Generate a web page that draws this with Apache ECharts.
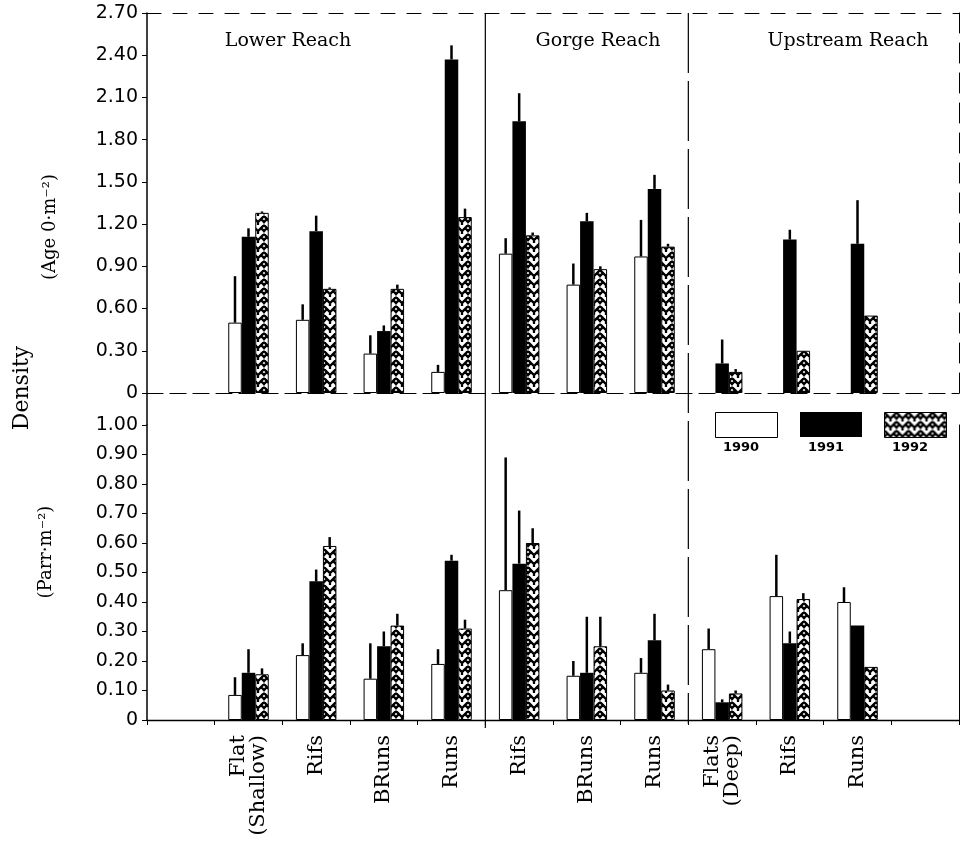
<!DOCTYPE html>
<html><head><meta charset="utf-8">
<script src="https://cdn.jsdelivr.net/npm/echarts/dist/echarts.min.js"></script>
<style>html,body{margin:0;padding:0;background:#fff}#c{width:963px;height:842px}</style>
</head><body><div id="c"></div>
<script>
// ---- data ----
const categories = ['', 'Flat\n(Shallow)', 'Rifs', 'BRuns', 'Runs', 'Rifs', 'BRuns', 'Runs', 'Flats\n(Deep)', 'Rifs', 'Runs', ''];
const years = ['1990', '1991', '1992'];
const reaches = ['Lower Reach', 'Gorge Reach', 'Upstream Reach'];
const ageTickLabels = ['0', '0.30', '0.60', '0.90', '1.20', '1.50', '1.80', '2.10', '2.40', '2.70'];
const parrTickLabels = ['0', '0.10', '0.20', '0.30', '0.40', '0.50', '0.60', '0.70', '0.80', '0.90', '1.00'];

// Age 0 density (fish per m2), means and standard errors
const age1990 = [null, 0.50, 0.52, 0.28, 0.15, 0.99, 0.77, 0.97, null, null, null, null];
const age1990Err = [null, 0.33, 0.11, 0.13, 0.05, 0.11, 0.15, 0.26, null, null, null, null];
const age1991 = [null, 1.11, 1.15, 0.44, 2.37, 1.93, 1.22, 1.45, 0.21, 1.09, 1.06, null];
const age1991Err = [null, 0.06, 0.11, 0.04, 0.10, 0.20, 0.06, 0.10, 0.17, 0.07, 0.31, null];
const age1992 = [null, 1.28, 0.74, 0.74, 1.25, 1.12, 0.88, 1.04, 0.15, 0.30, 0.55, null];
const age1992Err = [null, 0.01, 0.01, 0.03, 0.06, 0.02, 0.02, 0.02, 0.02, 0.0, 0.0, null];

// Parr density (fish per m2)
const parr1990 = [null, 0.085, 0.22, 0.14, 0.19, 0.44, 0.15, 0.16, 0.24, 0.42, 0.40, null];
const parr1990Err = [null, 0.06, 0.04, 0.12, 0.05, 0.45, 0.05, 0.05, 0.07, 0.14, 0.05, null];
const parr1991 = [null, 0.16, 0.47, 0.25, 0.54, 0.53, 0.16, 0.27, 0.06, 0.26, 0.32, null];
const parr1991Err = [null, 0.08, 0.04, 0.05, 0.02, 0.18, 0.19, 0.09, 0.01, 0.04, 0.0, null];
const parr1992 = [null, 0.155, 0.59, 0.32, 0.31, 0.60, 0.25, 0.10, 0.09, 0.41, 0.18, null];
const parr1992Err = [null, 0.02, 0.03, 0.04, 0.03, 0.05, 0.10, 0.02, 0.01, 0.02, 0.0, null];

// ---- styling ----
const sans = 'DejaVu Sans', serif = 'DejaVu Serif';
const BW = 13.5;
function makeHatch() {
  const w = 12, h = 9;
  const c = document.createElement('canvas'); c.width = w; c.height = h;
  const g = c.getContext('2d');
  g.fillStyle = '#fff'; g.fillRect(0, 0, w, h);
  g.strokeStyle = '#000'; g.lineWidth = 2.3; g.lineCap = 'butt';
  g.beginPath();
  // chevron (herringbone spine)
  g.moveTo(-1, -1); g.lineTo(6, 6); g.lineTo(13, -1);
  g.moveTo(-1, h - 1); g.lineTo(0, h);
  g.moveTo(13, h - 1); g.lineTo(12, h);
  // brick ties
  g.moveTo(3, 3); g.lineTo(-1, 7);
  g.moveTo(9, 3); g.lineTo(13, 7);
  g.moveTo(6, 6); g.lineTo(6, h + 1);
  g.stroke();
  return c;
}
const hatch = makeHatch();
const fills = [
  { color: '#fff', borderColor: '#000', borderWidth: 1 },
  { color: '#000', borderColor: '#000', borderWidth: 0 },
  { color: { image: hatch, repeat: 'repeat' }, borderColor: '#000', borderWidth: 1 }
];

const panels = [
  { means: [age1990, age1991, age1992], errs: [age1990Err, age1991Err, age1992Err], ticks: ageTickLabels, step: 0.3 },
  { means: [parr1990, parr1991, parr1992], errs: [parr1990Err, parr1991Err, parr1992Err], ticks: parrTickLabels, step: 0.1 }
];

function errRender(off) {
  return function (params, api) {
    const i = api.value(0), v = api.value(1), e = api.value(2);
    const p0 = api.coord([i, v]), p1 = api.coord([i, v + e]);
    return { type: 'line', shape: { x1: p0[0] + off, y1: p0[1], x2: p1[0] + off, y2: p1[1] },
      style: { stroke: '#000', lineWidth: 2.5 } };
  };
}

const grids = [
  { left: 147, top: 13, width: 812, height: 380, outerBoundsMode: 'none', containLabel: false },
  { left: 147, top: 425, width: 812, height: 295, outerBoundsMode: 'none', containLabel: false }
];

const xAxes = [
  { type: 'category', gridIndex: 0, data: categories, position: 'bottom',
    axisLine: { show: true, onZero: false, lineStyle: { color: '#000', width: 1.2, type: [16, 7] } },
    axisTick: { show: false }, axisLabel: { show: false }, splitLine: { show: false } },
  { type: 'category', gridIndex: 0, data: categories, position: 'top',
    axisLine: { show: true, onZero: false, lineStyle: { color: '#000', width: 1, type: [14, 12] } },
    axisTick: { show: false }, axisLabel: { show: false }, splitLine: { show: false } },
  { type: 'category', gridIndex: 1, data: categories, position: 'bottom',
    axisLine: { show: true, onZero: false, lineStyle: { color: '#000', width: 1.3 } },
    axisTick: { show: true, length: 5, lineStyle: { color: '#000', width: 1 } },
    axisLabel: { interval: 0, rotate: 90, color: '#000', fontFamily: serif, fontSize: 21, lineHeight: 20, margin: 15 },
    splitLine: { show: false } }
];

const yAxes = [];
panels.forEach((p, gi) => {
  const max = p.step * (p.ticks.length - 1);
  yAxes.push({ type: 'value', gridIndex: gi, position: 'left', min: 0, max: max, interval: p.step,
    axisLine: { show: true, onZero: false, lineStyle: { color: '#000', width: 1.5 } },
    axisTick: { show: true, length: 5, lineStyle: { color: '#000' } },
    axisLabel: { color: '#000', fontFamily: sans, fontSize: 19, margin: 9,
      formatter: v => p.ticks[Math.round(v / p.step)] },
    splitLine: { show: false } });
  yAxes.push({ type: 'value', gridIndex: gi, position: 'right', min: 0, max: max, interval: p.step,
    axisLine: { show: true, onZero: false, lineStyle: { color: '#000', width: 1, type: gi === 0 ? [20, 10] : 'solid' } },
    axisTick: { show: false }, axisLabel: { show: false }, splitLine: { show: false } });
});

const series = [];
panels.forEach((p, gi) => {
  const xi = gi === 0 ? 0 : 2, yi = gi * 2;
  years.forEach((y, k) => {
    series.push({ type: 'bar', name: y, xAxisIndex: xi, yAxisIndex: yi, data: p.means[k],
      barWidth: BW, barGap: '0%', itemStyle: fills[k], z: 2, silent: true });
  });
  years.forEach((y, k) => {
    const d = p.means[k].map((v, i) => v == null ? null : [i, v, p.errs[k][i]]).filter(Boolean);
    series.push({ type: 'custom', name: y + ' SE', xAxisIndex: xi, yAxisIndex: yi, data: d,
      encode: { x: 0, y: 1 }, renderItem: errRender((k - 1) * BW), z: 3, silent: true });
  });
});

const legendLeft = [710, 795, 879];
const legends = years.map((y, k) => ({ left: legendLeft[k], top: 407, data: [y], icon: 'rect',
  itemWidth: 62, itemHeight: 25, selectedMode: false, formatter: () => '',
  textStyle: { fontSize: 1 }, itemStyle: fills[k] }));

const chart = echarts.init(document.getElementById('c'), null, { renderer: 'canvas' });
chart.setOption({
  animation: false, backgroundColor: '#fff',
  grid: grids, xAxis: xAxes, yAxis: yAxes, series: series, legend: legends
});

// decorations positioned from the axes
const cx = i => chart.convertToPixel({ xAxisIndex: 2 }, i);
const b1 = (cx(4) + cx(5)) / 2, b2 = (cx(7) + cx(8)) / 2;
const graphics = [
  { type: 'line', shape: { x1: b1, y1: 13, x2: b1, y2: 728 }, style: { stroke: '#000', lineWidth: 1.2 }, z: 5 },
  { type: 'line', shape: { x1: b2, y1: 13, x2: b2, y2: 724 }, style: { stroke: '#000', lineWidth: 1.2, lineDash: [60, 8] }, z: 5 },
  { type: 'line', shape: { x1: 147, y1: 393, x2: 147, y2: 425 }, style: { stroke: '#000', lineWidth: 1.5 }, z: 5 },
  { type: 'text', x: 288, y: 41, style: { text: reaches[0], font: '19px "DejaVu Serif"', fill: '#000', align: 'center', verticalAlign: 'middle' } },
  { type: 'text', x: 598, y: 41, style: { text: reaches[1], font: '19px "DejaVu Serif"', fill: '#000', align: 'center', verticalAlign: 'middle' } },
  { type: 'text', x: 848, y: 41, style: { text: reaches[2], font: '19px "DejaVu Serif"', fill: '#000', align: 'center', verticalAlign: 'middle' } },
  { type: 'text', x: 22, y: 388, rotation: Math.PI / 2, style: { text: 'Density', font: '22px "DejaVu Serif"', fill: '#000', align: 'center', verticalAlign: 'middle' } },
  { type: 'text', x: 50, y: 227, rotation: Math.PI / 2, style: { text: '(Age 0·m⁻²)', font: '18px "DejaVu Serif"', fill: '#000', align: 'center', verticalAlign: 'middle' } },
  { type: 'text', x: 46, y: 552, rotation: Math.PI / 2, style: { text: '(Parr·m⁻²)', font: '18px "DejaVu Serif"', fill: '#000', align: 'center', verticalAlign: 'middle' } }
];
years.forEach((y, k) => graphics.push({ type: 'text', x: legendLeft[k] + 31, y: 448,
  style: { text: y, font: 'bold 13px "DejaVu Sans"', fill: '#000', align: 'center', verticalAlign: 'middle' } }));
chart.setOption({ graphic: graphics });
</script></body></html>
